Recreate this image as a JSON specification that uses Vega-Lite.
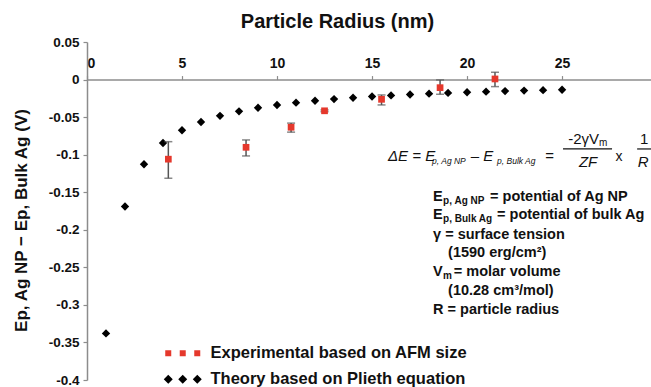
{
  "$schema": "https://vega.github.io/schema/vega-lite/v6.json",
  "width": 564,
  "height": 338,
  "autosize": {"type": "none"},
  "padding": {"left": 87, "top": 42, "right": 0, "bottom": 7},
  "background": "white",
  "config": {
    "view": {"stroke": null},
    "font": "Liberation Sans",
    "axis": {"labelOverlap": false, "grid": false, "domainColor": "#8c8c8c", "tickColor": "#8c8c8c", "domainWidth": 1.5, "tickWidth": 1.2, "tickSize": 4,
             "labelFont": "Liberation Sans", "labelFontWeight": "bold", "labelColor": "#111", "titleFont": "Liberation Sans", "titleFontWeight": "bold", "titleColor": "#111"},
    "axisY": {"labelOverlap": false, "tickCount": 10, "labelFontSize": 13.5, "labelPadding": 4},
    "axisX": {"labelOverlap": false, "tickCount": 6, "labelFontSize": 14, "labelPadding": 5}
  },
  "datasets": {
    "theory": [
      {"r": 1, "v": -0.338, "series": "Theory based on Plieth equation"},
      {"r": 2, "v": -0.169, "series": "Theory based on Plieth equation"},
      {"r": 3, "v": -0.1128, "series": "Theory based on Plieth equation"},
      {"r": 4, "v": -0.0845, "series": "Theory based on Plieth equation"},
      {"r": 5, "v": -0.0675, "series": "Theory based on Plieth equation"},
      {"r": 6, "v": -0.0565, "series": "Theory based on Plieth equation"},
      {"r": 7, "v": -0.0483, "series": "Theory based on Plieth equation"},
      {"r": 8, "v": -0.0423, "series": "Theory based on Plieth equation"},
      {"r": 9, "v": -0.0376, "series": "Theory based on Plieth equation"},
      {"r": 10, "v": -0.0338, "series": "Theory based on Plieth equation"},
      {"r": 11, "v": -0.0308, "series": "Theory based on Plieth equation"},
      {"r": 12, "v": -0.0282, "series": "Theory based on Plieth equation"},
      {"r": 13, "v": -0.026, "series": "Theory based on Plieth equation"},
      {"r": 14, "v": -0.0242, "series": "Theory based on Plieth equation"},
      {"r": 15, "v": -0.0225, "series": "Theory based on Plieth equation"},
      {"r": 16, "v": -0.0211, "series": "Theory based on Plieth equation"},
      {"r": 17, "v": -0.0199, "series": "Theory based on Plieth equation"},
      {"r": 18, "v": -0.0188, "series": "Theory based on Plieth equation"},
      {"r": 19, "v": -0.0178, "series": "Theory based on Plieth equation"},
      {"r": 20, "v": -0.0169, "series": "Theory based on Plieth equation"},
      {"r": 21, "v": -0.0161, "series": "Theory based on Plieth equation"},
      {"r": 22, "v": -0.0154, "series": "Theory based on Plieth equation"},
      {"r": 23, "v": -0.0147, "series": "Theory based on Plieth equation"},
      {"r": 24, "v": -0.0141, "series": "Theory based on Plieth equation"},
      {"r": 25, "v": -0.0135, "series": "Theory based on Plieth equation"}
    ],
    "exp": [
      {"r": 4.28, "v": -0.106, "lo": -0.1314, "hi": -0.0827, "series": "Experimental based on AFM size"},
      {"r": 8.37, "v": -0.0902, "lo": -0.1017, "hi": -0.0804, "series": "Experimental based on AFM size"},
      {"r": 10.74, "v": -0.0635, "lo": -0.07, "hi": -0.058, "series": "Experimental based on AFM size"},
      {"r": 12.5, "v": -0.0416, "lo": -0.0428, "hi": -0.0404, "series": "Experimental based on AFM size"},
      {"r": 15.5, "v": -0.0263, "lo": -0.0338, "hi": -0.0205, "series": "Experimental based on AFM size"},
      {"r": 18.58, "v": -0.0108, "lo": -0.0196, "hi": -0.0005, "series": "Experimental based on AFM size"},
      {"r": 21.47, "v": 0.0008, "lo": -0.0094, "hi": 0.0097, "series": "Experimental based on AFM size"}
    ]
  },
  "layer": [
    {
      "data": {"name": "theory"},
      "mark": {"type": "point", "filled": true, "size": 70, "opacity": 1, "shape": "diamond"},
      "encoding": {
        "x": {
          "field": "r", "type": "quantitative",
          "scale": {"domain": [0, 29.68], "nice": false, "zero": false},
          "axis": {
            "orient": "top", "offset": -37.56, "values": [0, 5, 10, 15, 20, 25],
            "title": "Particle Radius (nm)", "titleFontSize": 20,
            "titleX": 250, "titleY": -51.6, "titleAlign": "center", "titleBaseline": "alphabetic",
            "labelFlush": true, "labelOverlap": false
          }
        },
        "y": {
          "field": "v", "type": "quantitative",
          "title": "Ep, Ag NP − Ep, Bulk Ag  (V)",
          "scale": {"domain": [-0.4, 0.05], "nice": false, "zero": false},
          "axis": {
            "orient": "left",
            "values": [-0.4, -0.35, -0.3, -0.25, -0.2, -0.15, -0.1, -0.05, 0, 0.05],
            "labelExpr": "replace('' + datum.value, '−', '-')", "labelOverlap": false,
            "titleFontSize": 17,
            "titleAngle": 270, "titleX": -66, "titleY": 178, "titleAlign": "center", "titleBaseline": "middle"
          }
        },
        "color": {
          "field": "series", "type": "nominal",
          "scale": {"domain": ["Experimental based on AFM size", "Theory based on Plieth equation"], "range": ["#e5382c", "#000000"]}
        }
      }
    },
    {
      "data": {"name": "exp"},
      "mark": {"type": "errorbar", "ticks": {"size": 8, "color": "#555555"}, "rule": {"color": "#555555", "strokeWidth": 1.5}, "thickness": 1.5},
      "encoding": {
        "x": {"field": "r", "type": "quantitative"},
        "y": {"field": "lo", "type": "quantitative", "title": "Ep, Ag NP − Ep, Bulk Ag  (V)"},
        "y2": {"field": "hi"}
      }
    },
    {
      "data": {"name": "exp"},
      "mark": {"type": "point", "filled": true, "size": 45, "opacity": 1, "shape": "square"},
      "encoding": {
        "x": {"field": "r", "type": "quantitative"},
        "y": {"field": "v", "type": "quantitative", "title": "Ep, Ag NP − Ep, Bulk Ag  (V)"},
        "color": {"field": "series", "type": "nominal"}
      }
    },
    {
      "data": {"name": "exp"},
      "transform": [{"filter": "false"}],
      "mark": {"type": "point", "filled": true, "opacity": 1},
      "encoding": {
        "x": {"field": "r", "type": "quantitative"},
        "y": {"field": "v", "type": "quantitative", "title": "Ep, Ag NP − Ep, Bulk Ag  (V)"},
        "color": {
          "field": "series", "type": "nominal",
          "legend": {
            "orient": "none", "legendX": 73, "legendY": 303, "title": null, "padding": 0,
            "symbolSize": 36, "labelOffset": 34, "labelFontSize": 16.5, "labelFontWeight": "bold",
            "labelFont": "Liberation Sans", "labelColor": "#111", "rowPadding": 9, "labelLimit": 400,
            "symbolStrokeWidth": 0
          }
        },
        "shape": {
          "field": "series", "type": "nominal",
          "scale": {
            "domain": ["Experimental based on AFM size", "Theory based on Plieth equation"],
            "range": ["M-1,-1H1V1H-1Z M3.83,-1H5.83V1H3.83Z M8.67,-1H10.67V1H8.67Z", "M0,-1.5L1.5,0L0,1.5L-1.5,0Z M4.83,-1.5L6.33,0L4.83,1.5L3.33,0Z M9.67,-1.5L11.17,0L9.67,1.5L8.17,0Z"]
          },
          "legend": {
            "orient": "none", "legendX": 73, "legendY": 303, "title": null, "padding": 0,
            "symbolSize": 36, "labelOffset": 34, "labelFontSize": 16.5, "labelFontWeight": "bold",
            "labelFont": "Liberation Sans", "labelColor": "#111", "rowPadding": 9, "labelLimit": 400,
            "symbolStrokeWidth": 0
          }
        }
      }
    },
    {"data": {"values": [{}]}, "mark": {"type": "text", "align": "left", "baseline": "middle", "fontSize": 15, "fontStyle": "italic", "color": "#111"},
     "encoding": {"x": {"datum": 15.84, "type": "quantitative"}, "y": {"datum": -0.1017, "type": "quantitative"}, "text": {"value": "ΔE = E"}}},
    {"data": {"values": [{}]}, "mark": {"type": "text", "align": "left", "baseline": "middle", "fontSize": 8.5, "fontStyle": "italic", "color": "#111"},
     "encoding": {"x": {"datum": 18.16, "type": "quantitative"}, "y": {"datum": -0.1084, "type": "quantitative"}, "text": {"value": "p, Ag NP"}}},
    {"data": {"values": [{}]}, "mark": {"type": "text", "align": "left", "baseline": "middle", "fontSize": 15, "fontStyle": "italic", "color": "#111"},
     "encoding": {"x": {"datum": 20.2, "type": "quantitative"}, "y": {"datum": -0.1017, "type": "quantitative"}, "text": {"value": "– E"}}},
    {"data": {"values": [{}]}, "mark": {"type": "text", "align": "left", "baseline": "middle", "fontSize": 8.5, "fontStyle": "italic", "color": "#111"},
     "encoding": {"x": {"datum": 21.58, "type": "quantitative"}, "y": {"datum": -0.1084, "type": "quantitative"}, "text": {"value": "p, Bulk Ag"}}},
    {"data": {"values": [{}]}, "mark": {"type": "text", "align": "left", "baseline": "middle", "fontSize": 15, "color": "#111"},
     "encoding": {"x": {"datum": 24.11, "type": "quantitative"}, "y": {"datum": -0.1017, "type": "quantitative"}, "text": {"value": "="}}},
    {"data": {"values": [{}]}, "mark": {"type": "text", "align": "left", "baseline": "middle", "fontSize": 15, "color": "#111"},
     "encoding": {"x": {"datum": 25.32, "type": "quantitative"}, "y": {"datum": -0.0791, "type": "quantitative"}, "text": {"value": "-2γV"}}},
    {"data": {"values": [{}]}, "mark": {"type": "text", "align": "left", "baseline": "middle", "fontSize": 10, "color": "#111"},
     "encoding": {"x": {"datum": 26.95, "type": "quantitative"}, "y": {"datum": -0.0845, "type": "quantitative"}, "text": {"value": "m"}}},
    {"data": {"values": [{}]}, "mark": {"type": "rule", "color": "#111", "strokeWidth": 1.2},
     "encoding": {"x": {"datum": 25.05, "type": "quantitative"}, "x2": {"datum": 27.63}, "y": {"datum": -0.0924, "type": "quantitative"}}},
    {"data": {"values": [{}]}, "mark": {"type": "text", "align": "center", "baseline": "middle", "fontSize": 15, "fontStyle": "italic", "color": "#111"},
     "encoding": {"x": {"datum": 26.37, "type": "quantitative"}, "y": {"datum": -0.1097, "type": "quantitative"}, "text": {"value": "ZF"}}},
    {"data": {"values": [{}]}, "mark": {"type": "text", "align": "center", "baseline": "middle", "fontSize": 14, "color": "#111"},
     "encoding": {"x": {"datum": 28.0, "type": "quantitative"}, "y": {"datum": -0.103, "type": "quantitative"}, "text": {"value": "x"}}},
    {"data": {"values": [{}]}, "mark": {"type": "text", "align": "left", "baseline": "middle", "fontSize": 15, "color": "#111"},
     "encoding": {"x": {"datum": 29.1, "type": "quantitative"}, "y": {"datum": -0.0791, "type": "quantitative"}, "text": {"value": "1"}}},
    {"data": {"values": [{}]}, "mark": {"type": "rule", "color": "#111", "strokeWidth": 1.2},
     "encoding": {"x": {"datum": 28.95, "type": "quantitative"}, "x2": {"datum": 29.68}, "y": {"datum": -0.0924, "type": "quantitative"}}},
    {"data": {"values": [{}]}, "mark": {"type": "text", "align": "left", "baseline": "middle", "fontSize": 15, "fontStyle": "italic", "color": "#111"},
     "encoding": {"x": {"datum": 28.98, "type": "quantitative"}, "y": {"datum": -0.1097, "type": "quantitative"}, "text": {"value": "R"}}},

    {"data": {"values": [{}]}, "mark": {"type": "text", "align": "left", "baseline": "middle", "fontSize": 14.5, "fontWeight": "bold", "color": "#111"},
     "encoding": {"x": {"datum": 18.21, "type": "quantitative"}, "y": {"datum": -0.1563, "type": "quantitative"}, "text": {"value": "E"}}},
    {"data": {"values": [{}]}, "mark": {"type": "text", "align": "left", "baseline": "middle", "fontSize": 10, "fontWeight": "bold", "color": "#111"},
     "encoding": {"x": {"datum": 18.74, "type": "quantitative"}, "y": {"datum": -0.162, "type": "quantitative"}, "text": {"value": "p, Ag NP"}}},
    {"data": {"values": [{}]}, "mark": {"type": "text", "align": "left", "baseline": "middle", "fontSize": 14.5, "fontWeight": "bold", "color": "#111"},
     "encoding": {"x": {"datum": 21.21, "type": "quantitative"}, "y": {"datum": -0.1563, "type": "quantitative"}, "text": {"value": "= potential of Ag NP"}}},
    {"data": {"values": [{}]}, "mark": {"type": "text", "align": "left", "baseline": "middle", "fontSize": 14.5, "fontWeight": "bold", "color": "#111"},
     "encoding": {"x": {"datum": 18.21, "type": "quantitative"}, "y": {"datum": -0.1802, "type": "quantitative"}, "text": {"value": "E"}}},
    {"data": {"values": [{}]}, "mark": {"type": "text", "align": "left", "baseline": "middle", "fontSize": 10, "fontWeight": "bold", "color": "#111"},
     "encoding": {"x": {"datum": 18.74, "type": "quantitative"}, "y": {"datum": -0.1859, "type": "quantitative"}, "text": {"value": "p, Bulk Ag"}}},
    {"data": {"values": [{}]}, "mark": {"type": "text", "align": "left", "baseline": "middle", "fontSize": 14.5, "fontWeight": "bold", "color": "#111"},
     "encoding": {"x": {"datum": 21.58, "type": "quantitative"}, "y": {"datum": -0.1802, "type": "quantitative"}, "text": {"value": "= potential of bulk Ag"}}},
    {"data": {"values": [{}]}, "mark": {"type": "text", "align": "left", "baseline": "middle", "fontSize": 14.5, "fontWeight": "bold", "color": "#111"},
     "encoding": {"x": {"datum": 18.21, "type": "quantitative"}, "y": {"datum": -0.2069, "type": "quantitative"}, "text": {"value": "γ = surface tension"}}},
    {"data": {"values": [{}]}, "mark": {"type": "text", "align": "left", "baseline": "middle", "fontSize": 14.5, "fontWeight": "bold", "color": "#111"},
     "encoding": {"x": {"datum": 19.0, "type": "quantitative"}, "y": {"datum": -0.2308, "type": "quantitative"}, "text": {"value": "(1590 erg/cm²)"}}},
    {"data": {"values": [{}]}, "mark": {"type": "text", "align": "left", "baseline": "middle", "fontSize": 14.5, "fontWeight": "bold", "color": "#111"},
     "encoding": {"x": {"datum": 18.21, "type": "quantitative"}, "y": {"datum": -0.2561, "type": "quantitative"}, "text": {"value": "V"}}},
    {"data": {"values": [{}]}, "mark": {"type": "text", "align": "left", "baseline": "middle", "fontSize": 10, "fontWeight": "bold", "color": "#111"},
     "encoding": {"x": {"datum": 18.74, "type": "quantitative"}, "y": {"datum": -0.2618, "type": "quantitative"}, "text": {"value": "m"}}},
    {"data": {"values": [{}]}, "mark": {"type": "text", "align": "left", "baseline": "middle", "fontSize": 14.5, "fontWeight": "bold", "color": "#111"},
     "encoding": {"x": {"datum": 19.3, "type": "quantitative"}, "y": {"datum": -0.2561, "type": "quantitative"}, "text": {"value": "= molar volume"}}},
    {"data": {"values": [{}]}, "mark": {"type": "text", "align": "left", "baseline": "middle", "fontSize": 14.5, "fontWeight": "bold", "color": "#111"},
     "encoding": {"x": {"datum": 19.0, "type": "quantitative"}, "y": {"datum": -0.2814, "type": "quantitative"}, "text": {"value": "(10.28 cm³/mol)"}}},
    {"data": {"values": [{}]}, "mark": {"type": "text", "align": "left", "baseline": "middle", "fontSize": 14.5, "fontWeight": "bold", "color": "#111"},
     "encoding": {"x": {"datum": 18.21, "type": "quantitative"}, "y": {"datum": -0.3067, "type": "quantitative"}, "text": {"value": "R = particle radius"}}}
  ]
}
